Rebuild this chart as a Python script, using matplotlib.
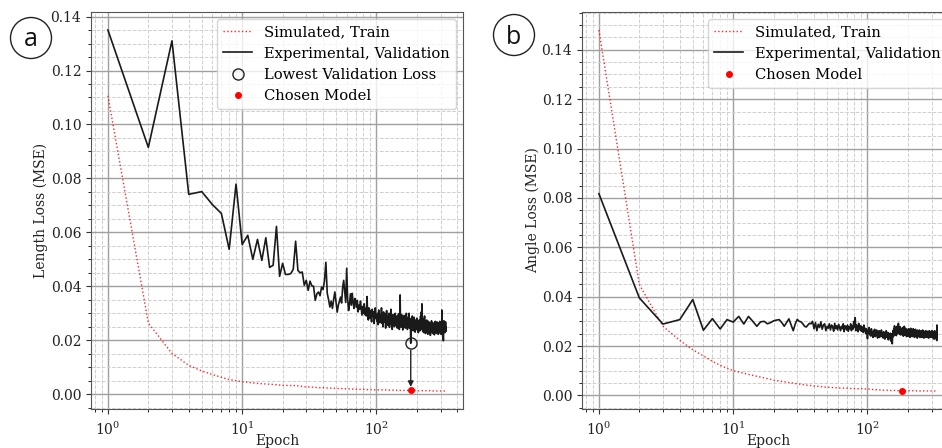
import numpy as np
import matplotlib
matplotlib.use('Agg')
import matplotlib.pyplot as plt
from matplotlib.patches import Ellipse
from matplotlib.ticker import AutoMinorLocator

plt.rcParams['font.family'] = 'DejaVu Serif'
plt.rcParams['mathtext.fontset'] = 'dejavuserif'
plt.rcParams['font.size'] = 10

# losses, in units of 1e-4 (one value per epoch)
train_len = [
    1106, 264, 151, 107, 86, 73, 63, 54, 50, 46,
    44, 42, 40, 39, 38, 37, 36, 35, 34, 33,
    33, 32, 32, 31, 33, 31, 30, 29, 28, 27,
    27, 26, 26, 26, 25, 25, 25, 24, 24, 24,
    24, 23, 23, 23, 23, 22, 22, 22, 22, 21,
    21, 21, 21, 21, 21, 20, 20, 20, 20, 20,
    20, 20, 19, 19, 19, 19, 19, 19, 19, 19,
    18, 18, 18, 18, 18, 18, 18, 18, 18, 18,
    18, 18, 18, 17, 17, 17, 17, 17, 17, 17,
    17, 17, 17, 16, 16, 16, 16, 16, 16, 16,
    16, 16, 16, 16, 16, 16, 16, 16, 16, 16, 16, 16, 16, 16, 16, 16, 16, 16, 16, 16,
    15, 15, 15, 15, 15, 15, 15, 15, 15, 15, 15, 15, 15, 15, 15, 15, 15, 15, 15, 15,
    14, 14, 14, 14, 14, 14, 14, 14, 14, 14, 14, 14, 14, 14, 14, 14, 14, 14, 14, 14,
    14, 14, 14, 14, 14, 14, 14, 14, 14, 14, 14, 14, 14, 14, 14, 14, 14, 14, 14, 14,
    14, 14, 14, 14, 14, 14, 14, 14, 14, 14, 14, 14, 14, 14, 14, 14, 14, 14, 14, 14,
    13, 13, 13, 13, 13, 13, 13, 13, 13, 13, 13, 13, 13, 13, 13, 13, 13, 13, 13, 13,
    13, 13, 13, 13, 13, 13, 13, 13, 13, 13, 13, 13, 13, 13, 13, 13, 13, 13, 13, 13,
    13, 13, 13, 13, 13, 13, 13, 13, 13, 13, 13, 13, 13, 13, 13, 13, 13, 13, 13, 13,
    12, 12, 12, 12, 12, 12, 12, 12, 12, 12, 12, 12, 12, 12, 12, 12, 12, 12, 12, 12,
    12, 12, 12, 12, 12, 12, 12, 12, 12, 12, 12, 12, 12, 12, 12, 12, 12, 12, 12, 12,
    12, 12, 12, 12, 12, 12, 12, 12, 12, 12, 12, 12, 12, 12, 12, 12, 12, 12, 12, 12,
    12, 12, 12, 12, 12, 12, 12, 12, 12, 12,
]

val_len = [
    1350, 915, 1310, 741, 751, 703, 670, 537, 779, 555,
    589, 500, 574, 496, 580, 470, 478, 622, 437, 485,
    444, 444, 447, 463, 567, 459, 450, 453, 404, 422,
    385, 419, 402, 400, 348, 372, 379, 365, 397, 388,
    420, 489, 374, 350, 323, 345, 318, 352, 379, 340,
    304, 330, 345, 360, 338, 395, 422, 380, 340, 467,
    352, 310, 335, 372, 330, 374, 340, 318, 355, 342,
    322, 348, 305, 330, 315, 345, 320, 293, 325, 300,
    335, 295, 318, 290, 362, 300, 275, 320, 282, 310,
    292, 268, 315, 288, 305, 262, 298, 320, 280, 295,
    270, 300, 258, 312, 285, 265, 295, 275, 320, 262,
    288, 250, 305, 280, 268, 298, 245, 282, 310, 266,
    290, 255, 278, 300, 248, 285, 270, 315, 258, 282,
    240, 276, 295, 262, 285, 250, 272, 300, 255, 280,
    262, 290, 245, 275, 258, 298, 265, 240, 285, 368,
    262, 280, 248, 295, 260, 275, 238, 285, 265, 250,
    292, 258, 270, 245, 280, 262, 300, 252, 275, 240,
    268, 285, 250, 272, 300, 245, 265, 280, 258, 189,
    262, 240, 278, 255, 290, 248, 268, 235, 272, 258,
    285, 245, 262, 230, 275, 255, 240, 268, 250, 282,
    238, 265, 250, 272, 228, 258, 245, 275, 262, 235,
    270, 248, 290, 255, 240, 305, 262, 335, 250, 268,
    232, 258, 280, 245, 265, 228, 255, 290, 240, 262,
    250, 225, 270, 245, 258, 232, 275, 248, 238, 262,
    222, 255, 245, 270, 235, 258, 228, 250, 265, 240,
    255, 218, 262, 240, 250, 232, 272, 245, 228, 258,
    242, 265, 225, 252, 238, 262, 230, 255, 248, 220,
    260, 242, 235, 270, 228, 252, 245, 262, 232, 250,
    238, 268, 225, 255, 245, 230, 260, 242, 222, 265,
    248, 235, 258, 228, 252, 270, 238, 245, 230, 262,
    240, 255, 222, 268, 245, 235, 312, 250, 228, 258,
    242, 230, 262, 238, 198, 255, 240, 272, 232, 250,
    238, 262, 228, 255, 245, 232, 268, 240, 250, 235,
]

train_ang = [
    1480, 449, 280, 223, 185, 160, 138, 122, 110, 100,
    95, 90, 85, 81, 77, 74, 71, 68, 65, 62,
    60, 58, 57, 55, 54, 52, 51, 50, 48, 47,
    46, 45, 44, 43, 42, 41, 40, 40, 39, 38,
    38, 37, 37, 36, 36, 35, 35, 34, 34, 34,
    33, 33, 33, 32, 32, 32, 32, 31, 31, 31,
    31, 30, 30, 30, 30, 30, 29, 29, 29, 29,
    29, 29, 28, 28, 28, 28, 28, 28, 28, 27,
    27, 27, 27, 27, 27, 27, 27, 27, 27, 27,
    27, 27, 26, 26, 26, 26, 26, 26, 26, 26,
    26, 26, 25, 25, 25, 25, 25, 25, 24, 24,
    24, 24, 24, 24, 23, 23, 23, 23, 23, 23,
    23, 22, 22, 22, 22, 22, 22, 22, 21, 21,
    21, 21, 21, 21, 21, 21, 21, 21, 21, 21,
    21, 21, 21, 20, 20, 20, 20, 20, 20, 20,
    20, 20, 20, 20, 20, 20, 20, 20, 20, 20,
    20, 20, 20, 20, 19, 19, 19, 19, 19, 19,
    19, 19, 19, 19, 19, 19, 19, 19, 19, 19,
    19, 19, 19, 19, 19, 19, 19, 19, 19, 19, 19, 19, 19, 19, 19, 19, 19, 19, 19, 19,
    19, 19, 19, 19, 19, 19, 19, 19, 19, 19, 19, 19, 19, 19, 19, 19, 19, 19, 19, 19,
    19, 19, 19, 19, 19, 19, 19, 19, 19, 19,
    18, 18, 18, 18, 18, 18, 18, 18, 18, 18, 18, 18, 18, 18, 18, 18, 18, 18, 18, 18,
    18, 18, 18, 18, 18, 18, 18, 18, 18, 18, 18, 18, 18, 18, 18, 18, 18, 18, 18, 18,
    18, 18, 18, 18, 18, 18, 18, 18, 18, 18, 18, 18, 18, 18, 18, 18, 18, 18, 18, 18,
    18, 18, 18, 18, 18, 18, 18, 18, 18, 18, 18, 18, 18, 18, 18, 18, 18, 18, 18, 18,
    18, 18, 18, 18, 18, 18, 18, 18, 18, 18, 18, 18, 18, 18, 18, 18, 18, 18, 18, 18,
]

val_ang = [
    817, 395, 289, 307, 388, 264, 311, 269, 307, 297,
    320, 289, 320, 300, 280, 298, 300, 290, 295, 302,
    305, 307, 295, 280, 295, 310, 285, 262, 290, 308,
    300, 298, 290, 280, 277, 285, 292, 290, 300, 270,
    295, 262, 288, 275, 298, 268, 285, 290, 262, 280,
    272, 290, 265, 285, 278, 260, 292, 270, 282, 265,
    288, 275, 262, 280, 270, 290, 258, 282, 275, 265,
    285, 260, 278, 270, 290, 262, 282, 268, 300, 275,
    315, 262, 285, 270, 258, 292, 275, 265, 282, 260,
    278, 268, 255, 285, 262, 272, 250, 270, 258, 230,
    265, 252, 275, 245, 262, 240, 270, 255, 248, 235,
    260, 245, 268, 238, 255, 242, 265, 248, 232, 258,
    245, 262, 235, 255, 248, 240, 265, 238, 252, 245,
    232, 258, 242, 250, 228, 255, 245, 262, 235, 248,
    240, 255, 225, 250, 238, 245, 230, 252, 220, 242,
    235, 250, 209, 245, 262, 238, 270, 250, 282, 245,
    268, 255, 275, 242, 262, 280, 250, 272, 258, 292,
    255, 270, 248, 265, 278, 245, 262, 250, 272, 258,
    245, 268, 252, 275, 240, 262, 255, 280, 245, 265,
    250, 272, 242, 260, 255, 238, 268, 250, 262, 245,
    258, 240, 270, 252, 245, 265, 235, 258, 250, 272,
    242, 255, 248, 265, 238, 260, 250, 245, 270, 240,
    258, 248, 262, 235, 255, 245, 268, 242, 252, 238,
    260, 245, 250, 265, 232, 255, 248, 240, 262, 245,
    252, 238, 265, 248, 242, 258, 235, 255, 250, 245,
    262, 240, 252, 235, 258, 248, 242, 265, 238, 255,
    245, 250, 232, 260, 248, 240, 258, 245, 235, 255,
    248, 262, 238, 250, 242, 258, 235, 252, 245, 240,
    260, 238, 250, 245, 232, 255, 248, 242, 262, 235,
    250, 245, 238, 258, 242, 235, 255, 248, 240, 252,
    238, 262, 245, 235, 255, 242, 250, 232, 258, 245,
    240, 255, 228, 250, 245, 262, 238, 252, 230, 248,
    242, 258, 235, 250, 232, 260, 240, 222, 285, 245,
]

chosen_epoch = 180

train_len = np.array(train_len) / 1e4
val_len = np.array(val_len) / 1e4
train_ang = np.array(train_ang) / 1e4
val_ang = np.array(val_ang) / 1e4

W, H = 942, 448
fig = plt.figure(figsize=(W / 100, H / 100), dpi=100)
ax_a = fig.add_axes([91 / W, 39 / H, 372 / W, 397 / H])
ax_b = fig.add_axes([582 / W, 39 / H, 372 / W, 397 / H])


def style_axes(ax, ylabel, ylab_x):
    ax.set_xscale('log')
    ax.yaxis.set_minor_locator(AutoMinorLocator(4))
    ax.grid(True, which='major', color='#a0a0a0', lw=1.0, ls='-')
    ax.grid(True, which='minor', color='#cfcfcf', lw=0.7, ls='--')
    ax.set_axisbelow(True)
    ax.set_xlabel('Epoch', color='#222222')
    ax.set_ylabel(ylabel, color='#222222')
    ax.xaxis.set_label_coords(0.5, -0.062)
    ax.yaxis.set_label_coords(ylab_x, 0.5)
    ax.tick_params(colors='#333333', labelcolor='#222222')
    ax.tick_params(axis='x', which='major', pad=5)
    for s in ax.spines.values():
        s.set_color('#555555')


def draw(ax, train, val):
    ep_t = np.arange(1, len(train) + 1)
    ep_v = np.arange(1, len(val) + 1)
    ax.plot(ep_t, train, ls=':', color='red', lw=1.0, alpha=0.85,
            label='Simulated, Train')
    ax.plot(ep_v, val, ls='-', color='#1a1a1a', lw=1.2,
            label='Experimental, Validation')


# panel a
draw(ax_a, train_len, val_len)
i = chosen_epoch - 1
ax_a.plot([chosen_epoch], [val_len[i]], 'o', mfc='none', mec='#222222',
          ms=8, mew=1.0, label='Lowest Validation Loss')
ax_a.plot([chosen_epoch], [train_len[i]], 'o', color='red', ms=4,
          label='Chosen Model')
ax_a.annotate('', xy=(chosen_epoch, train_len[i]),
              xytext=(chosen_epoch, val_len[i]),
              arrowprops=dict(arrowstyle='-|>', color='#222222', lw=1.0,
                              mutation_scale=8, shrinkA=5, shrinkB=2.5))
style_axes(ax_a, 'Length Loss (MSE)', -0.116)
ax_a.legend(loc='upper right', fontsize=10.6)

# panel b
draw(ax_b, train_ang, val_ang)
ax_b.plot([chosen_epoch], [train_ang[chosen_epoch - 1]], 'o', color='red',
          ms=4, label='Chosen Model')
style_axes(ax_b, 'Angle Loss (MSE)', -0.113)
ax_b.legend(loc='upper right', fontsize=10.6)

# circled panel letters
for cx, cy, letter in [(31, 38, 'a'), (514, 35, 'b')]:
    fig.patches.append(Ellipse((cx / W, 1 - cy / H), 41 / W, 41 / H,
                               transform=fig.transFigure, fill=False,
                               ec='#222222', lw=1.0))
    fig.text(cx / W, 1 - (cy + 2) / H, letter, ha='center', va='center',
             fontsize=18, family='Open Sans', color='#111111')

fig.savefig('out.png', dpi=100)
